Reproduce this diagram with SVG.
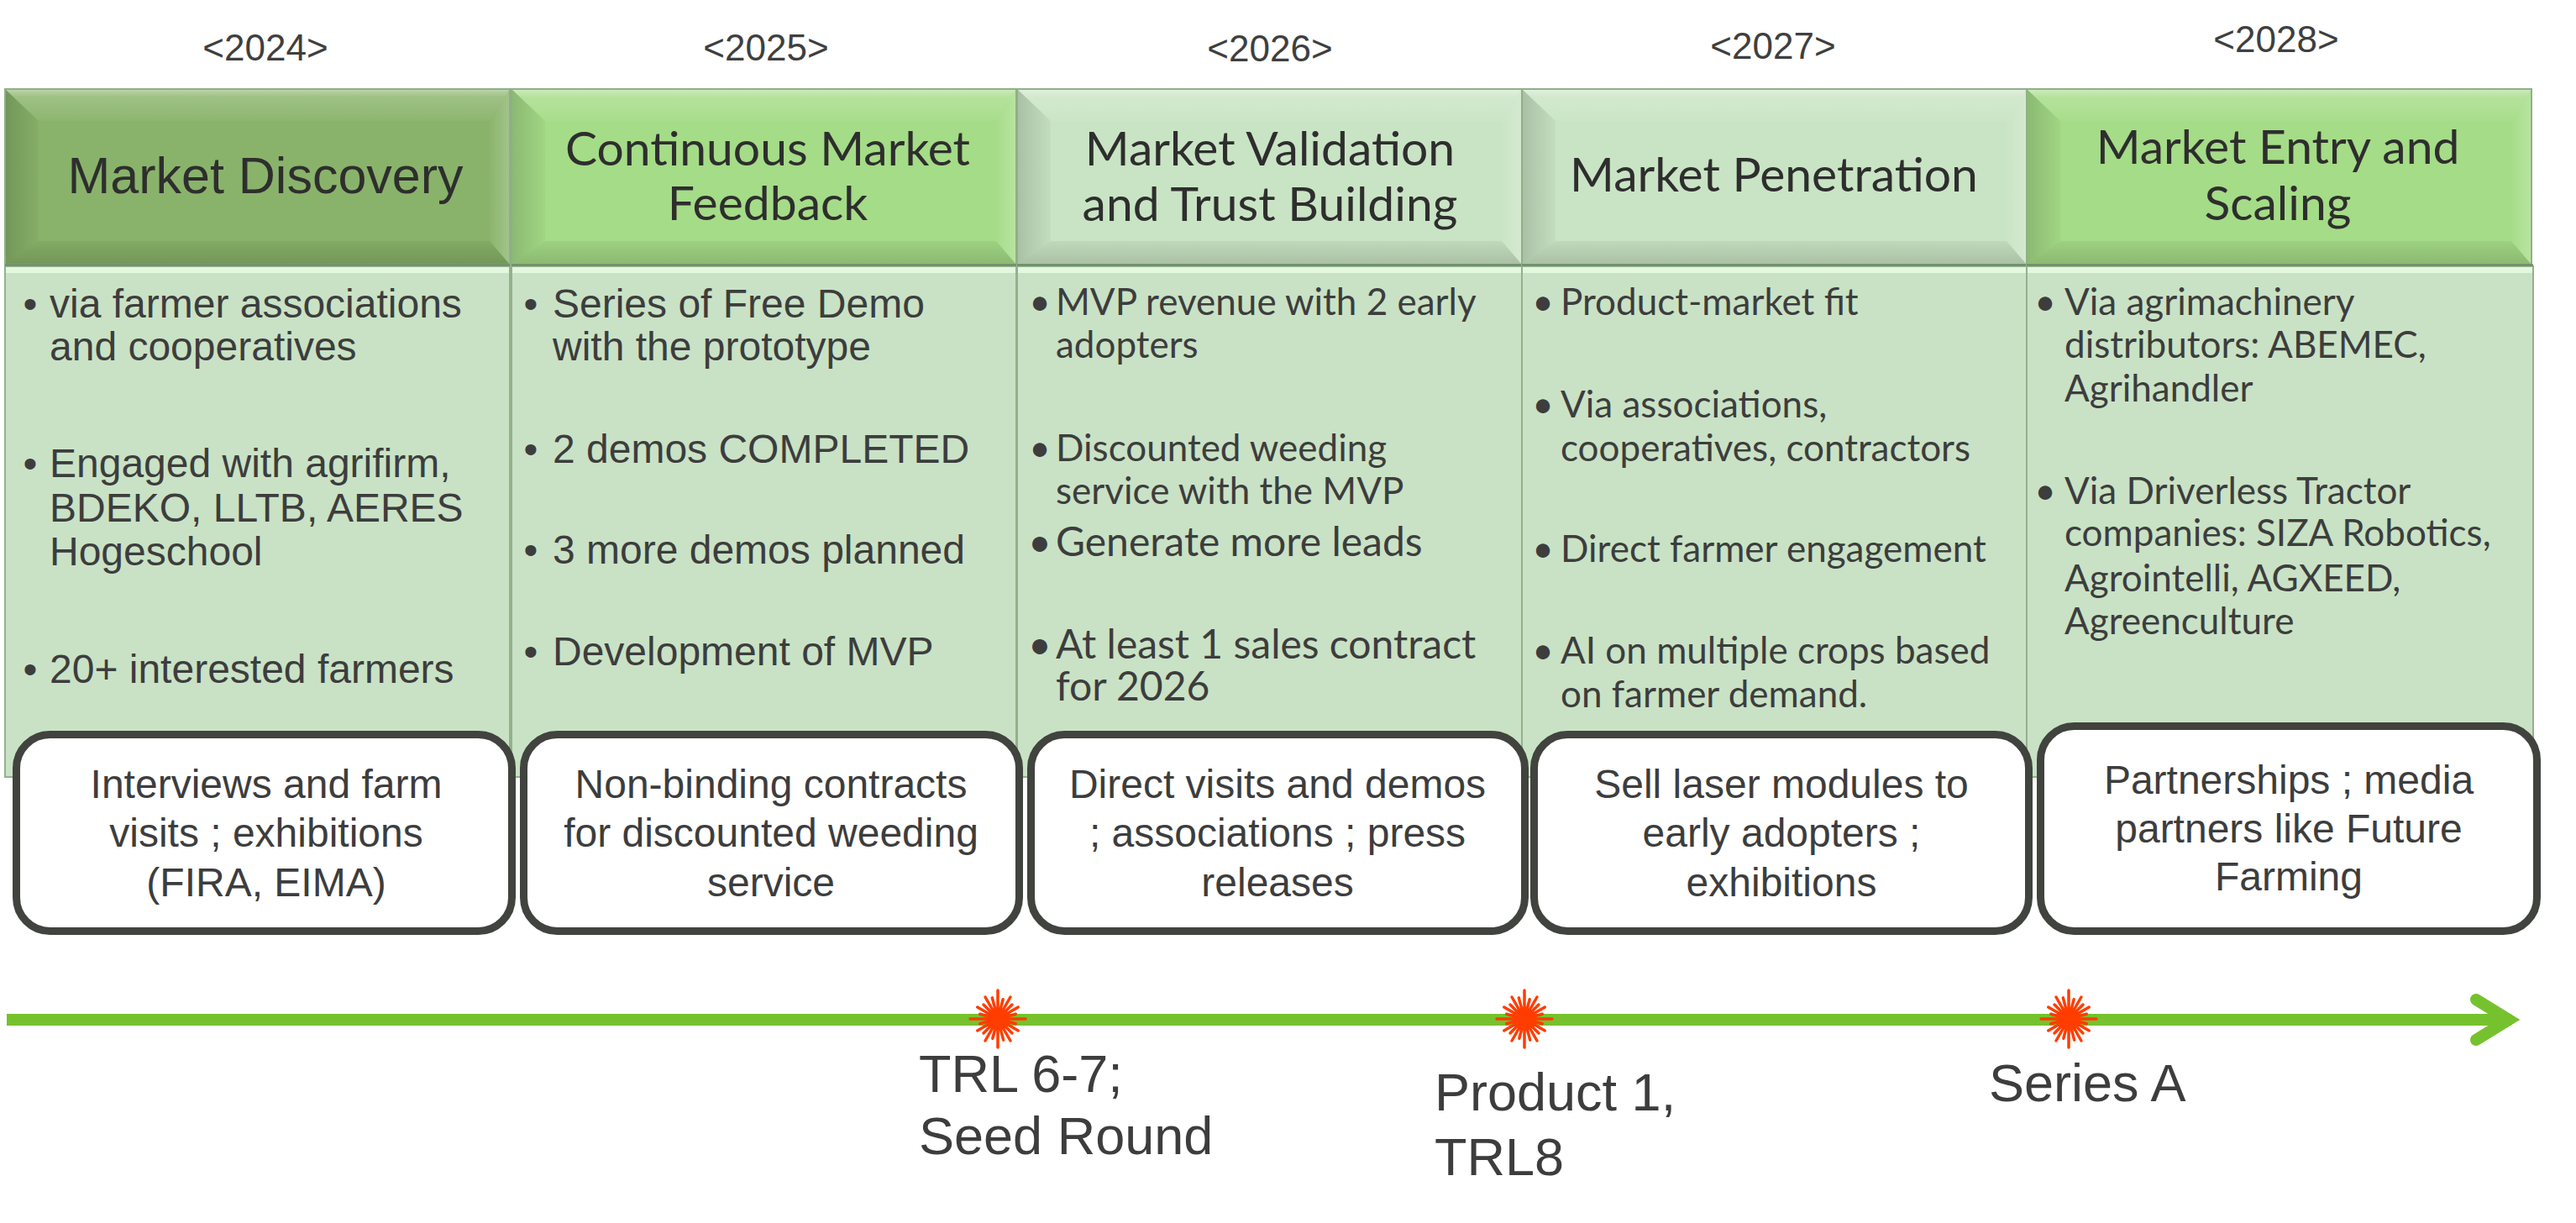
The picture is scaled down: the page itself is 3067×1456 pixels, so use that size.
<svg xmlns="http://www.w3.org/2000/svg" xmlns:xlink="http://www.w3.org/1999/xlink" width="3067" height="1456" viewBox="0 0 3067 1456">
  <style>
    .yr { font-family: "Liberation Sans", Arial, sans-serif; font-size: 44px; fill: #3f3f3f; text-anchor: middle; }
    .hA { font-family: "Liberation Sans", Arial, sans-serif; font-size: 61px; fill: #2e2e2e; text-anchor: middle; }
    .hC { font-family: Lato, "Noto Sans", sans-serif; font-size: 57px; fill: #2e2e2e; text-anchor: middle; }
    .bA { font-family: "Liberation Sans", Arial, sans-serif; font-size: 48px; fill: #3d3d3d; }
    .bC { font-family: Lato, "Noto Sans", sans-serif; font-size: 44px; fill: #3d3d3d; }
    .bC2 { font-family: Lato, "Noto Sans", sans-serif; font-size: 48px; fill: #3d3d3d; }
    .dot { text-anchor: middle; }
    .box { fill: #ffffff; stroke: #41433e; stroke-width: 9; }
    .bx { font-family: "Liberation Sans", Arial, sans-serif; font-size: 48px; fill: #3d3d3d; text-anchor: middle; }
    .ms { font-family: "Liberation Sans", Arial, sans-serif; font-size: 63px; fill: #3d3d3d; }
    .body { fill: #c9e2c5; stroke: #93b18d; stroke-width: 2; }
    .ray { stroke: #ff3d00; stroke-width: 3.5; stroke-linecap: round; fill: none; }
  </style>
  <defs>
    <!-- bevel shading overlays, shared by every phase header -->
    <linearGradient id="bevTop" x1="0" y1="0" x2="0" y2="1">
      <stop offset="0" stop-color="#ffffff" stop-opacity="0.45"/>
      <stop offset="0.25" stop-color="#ffffff" stop-opacity="0.18"/>
      <stop offset="1" stop-color="#ffffff" stop-opacity="0.04"/>
    </linearGradient>
    <linearGradient id="bevLeft" x1="0" y1="0" x2="1" y2="0">
      <stop offset="0" stop-color="#000000" stop-opacity="0.16"/>
      <stop offset="1" stop-color="#000000" stop-opacity="0.03"/>
    </linearGradient>
    <linearGradient id="bevRight" x1="0" y1="0" x2="1" y2="0">
      <stop offset="0" stop-color="#ffffff" stop-opacity="0.02"/>
      <stop offset="1" stop-color="#ffffff" stop-opacity="0.22"/>
    </linearGradient>
    <linearGradient id="bevBot" x1="0" y1="0" x2="0" y2="1">
      <stop offset="0" stop-color="#000000" stop-opacity="0.05"/>
      <stop offset="1" stop-color="#000000" stop-opacity="0.16"/>
    </linearGradient>
    <!-- bevel bands for a 601 x 209 header placed at the origin -->
    <g id="bevel">
      <polygon points="0,0 601,0 577,38 40,38" fill="url(#bevTop)"/>
      <polygon points="0,0 40,38 40,181 0,209" fill="url(#bevLeft)"/>
      <polygon points="601,0 601,209 577,181 577,38" fill="url(#bevRight)"/>
      <polygon points="0,209 40,181 577,181 601,209" fill="url(#bevBot)"/>
      <rect x="0" y="0" width="601" height="209" fill="none" stroke="#8fb088" stroke-width="2"/>
    </g>
    <!-- milestone starburst -->
    <g id="burst">
      <path class="ray" d="M0 0L33 0M0 0L21.3 5.7M0 0L24.3 14M0 0L17 17M0 0L15 26M0 0L6.7 25.1M0 0L0 34M0 0L-6.2 23.2M0 0L-15 26M0 0L-17 17M0 0L-24.3 14M0 0L-21.3 5.7M0 0L-33 0M0 0L-21.3 -5.7M0 0L-24.3 -14M0 0L-17 -17M0 0L-15 -26M0 0L-6.7 -25.1M0 0L0 -34M0 0L6.2 -23.2M0 0L15 -26M0 0L17 -17M0 0L24.3 -14M0 0L21.3 -5.7"/>
      <circle cx="0" cy="0" r="12" fill="#ff3d00"/>
    </g>
  </defs>

  <rect x="0" y="0" width="3067" height="1456" fill="#ffffff"/>

  <!-- years -->
  <g id="years">
    <text class="yr" x="316" y="72">&lt;2024&gt;</text>
    <text class="yr" x="912" y="72">&lt;2025&gt;</text>
    <text class="yr" x="1512" y="73">&lt;2026&gt;</text>
    <text class="yr" x="2111" y="70">&lt;2027&gt;</text>
    <text class="yr" x="2710" y="62">&lt;2028&gt;</text>
  </g>

  <!-- phase 1 -->
  <g id="phase-2024">
    <rect class="body" x="6" y="317" width="601" height="608"/>
    <rect x="7" y="318" width="599" height="7" fill="#e3f8df"/>
    <rect x="6" y="106" width="601" height="209" fill="#89b36a"/>
    <use xlink:href="#bevel" x="6" y="106"/>
    <line x1="6" y1="315.5" x2="607" y2="315.5" stroke="#6a8566" stroke-width="2"/>
    <text class="hA" x="316" y="230">Market Discovery</text>
    <text class="bA dot" x="36" y="378">•</text>
    <text class="bA" x="59" y="378">via farmer associations</text>
    <text class="bA" x="59" y="429">and cooperatives</text>
    <text class="bA dot" x="36" y="568">•</text>
    <text class="bA" x="59" y="568">Engaged with agrifirm,</text>
    <text class="bA" x="59" y="621">BDEKO, LLTB, AERES</text>
    <text class="bA" x="59" y="673">Hogeschool</text>
    <text class="bA dot" x="36" y="813">•</text>
    <text class="bA" x="59" y="813">20+ interested farmers</text>
  </g>

  <!-- phase 2 -->
  <g id="phase-2025">
    <rect class="body" x="609" y="317" width="601" height="608"/>
    <rect x="610" y="318" width="599" height="7" fill="#e3f8df"/>
    <rect x="609" y="106" width="601" height="209" fill="#a5dc87"/>
    <use xlink:href="#bevel" x="609" y="106"/>
    <line x1="609" y1="315.5" x2="1210" y2="315.5" stroke="#6a8566" stroke-width="2"/>
    <text class="hC" x="914" y="197">Continuous Market</text>
    <text class="hC" x="914" y="262">Feedback</text>
    <text class="bA dot" x="632" y="378">•</text>
    <text class="bA" x="658" y="378">Series of Free Demo</text>
    <text class="bA" x="658" y="429">with the prototype</text>
    <text class="bA dot" x="632" y="551">•</text>
    <text class="bA" x="658" y="551">2 demos COMPLETED</text>
    <text class="bA dot" x="632" y="671">•</text>
    <text class="bA" x="658" y="671">3 more demos planned</text>
    <text class="bA dot" x="632" y="792">•</text>
    <text class="bA" x="658" y="792">Development of MVP</text>
  </g>

  <!-- phase 3 -->
  <g id="phase-2026">
    <rect class="body" x="1211" y="317" width="601" height="608"/>
    <rect x="1212" y="318" width="599" height="7" fill="#e3f8df"/>
    <rect x="1211" y="106" width="601" height="209" fill="#c9e4c4"/>
    <use xlink:href="#bevel" x="1211" y="106"/>
    <line x1="1211" y1="315.5" x2="1812" y2="315.5" stroke="#6a8566" stroke-width="2"/>
    <text class="hC" x="1512" y="197">Market Validation</text>
    <text class="hC" x="1512" y="263">and Trust Building</text>
    <text class="bC dot" x="1238" y="375">•</text>
    <text class="bC" x="1257" y="375">MVP revenue with 2 early</text>
    <text class="bC" x="1257" y="426">adopters</text>
    <text class="bC dot" x="1238" y="549">•</text>
    <text class="bC" x="1257" y="549">Discounted weeding</text>
    <text class="bC" x="1257" y="600">service with the MVP</text>
    <text class="bC2 dot" x="1238" y="662">•</text>
    <text class="bC2" x="1257" y="662">Generate more leads</text>
    <text class="bC2 dot" x="1238" y="784">•</text>
    <text class="bC2" x="1257" y="784">At least 1 sales contract</text>
    <text class="bC2" x="1257" y="834">for 2026</text>
  </g>

  <!-- phase 4 -->
  <g id="phase-2027">
    <rect class="body" x="1812" y="317" width="601" height="608"/>
    <rect x="1813" y="318" width="599" height="7" fill="#e3f8df"/>
    <rect x="1812" y="106" width="601" height="209" fill="#c9e4c4"/>
    <use xlink:href="#bevel" x="1812" y="106"/>
    <line x1="1812" y1="315.5" x2="2413" y2="315.5" stroke="#6a8566" stroke-width="2"/>
    <text class="hC" x="2112" y="228">Market Penetration</text>
    <text class="bC dot" x="1837" y="375">•</text>
    <text class="bC" x="1858" y="375">Product-market fit</text>
    <text class="bC dot" x="1837" y="497">•</text>
    <text class="bC" x="1858" y="497">Via associations,</text>
    <text class="bC" x="1858" y="549">cooperatives, contractors</text>
    <text class="bC dot" x="1837" y="669">•</text>
    <text class="bC" x="1858" y="669">Direct farmer engagement</text>
    <text class="bC dot" x="1837" y="790">•</text>
    <text class="bC" x="1858" y="790">AI on multiple crops based</text>
    <text class="bC" x="1858" y="842">on farmer demand.</text>
  </g>

  <!-- phase 5 -->
  <g id="phase-2028">
    <rect class="body" x="2413" y="317" width="603" height="608"/>
    <rect x="2414" y="318" width="601" height="7" fill="#e3f8df"/>
    <rect x="2413" y="106" width="601" height="209" fill="#a5dc87"/>
    <use xlink:href="#bevel" x="2413" y="106"/>
    <line x1="2413" y1="315.5" x2="3016" y2="315.5" stroke="#6a8566" stroke-width="2"/>
    <text class="hC" x="2712" y="195">Market Entry and</text>
    <text class="hC" x="2712" y="262">Scaling</text>
    <text class="bC dot" x="2435" y="375">•</text>
    <text class="bC" x="2458" y="375">Via agrimachinery</text>
    <text class="bC" x="2458" y="426">distributors: ABEMEC,</text>
    <text class="bC" x="2458" y="478">Agrihandler</text>
    <text class="bC dot" x="2435" y="600">•</text>
    <text class="bC" x="2458" y="600">Via Driverless Tractor</text>
    <text class="bC" x="2458" y="650">companies: SIZA Robotics,</text>
    <text class="bC" x="2458" y="704">Agrointelli, AGXEED,</text>
    <text class="bC" x="2458" y="755">Agreenculture</text>
  </g>

  <!-- channel boxes -->
  <g id="channels-2024">
    <rect class="box" x="19.5" y="874.5" width="590" height="234" rx="40"/>
    <text class="bx" x="317" y="950">Interviews and farm</text>
    <text class="bx" x="317" y="1008">visits ; exhibitions</text>
    <text class="bx" x="317" y="1067">(FIRA, EIMA)</text>
  </g>
  <g id="channels-2025">
    <rect class="box" x="623.5" y="874.5" width="590" height="234" rx="40"/>
    <text class="bx" x="918" y="950">Non-binding contracts</text>
    <text class="bx" x="918" y="1008">for discounted weeding</text>
    <text class="bx" x="918" y="1067">service</text>
  </g>
  <g id="channels-2026">
    <rect class="box" x="1227.5" y="874.5" width="588" height="234" rx="40"/>
    <text class="bx" x="1521" y="950">Direct visits and demos</text>
    <text class="bx" x="1521" y="1008">; associations ; press</text>
    <text class="bx" x="1521" y="1067">releases</text>
  </g>
  <g id="channels-2027">
    <rect class="box" x="1826.5" y="874.5" width="589" height="234" rx="40"/>
    <text class="bx" x="2121" y="950">Sell laser modules to</text>
    <text class="bx" x="2121" y="1008">early adopters ;</text>
    <text class="bx" x="2121" y="1067">exhibitions</text>
  </g>
  <g id="channels-2028">
    <rect class="box" x="2429.5" y="864.5" width="591" height="244" rx="40"/>
    <text class="bx" x="2725" y="945">Partnerships ; media</text>
    <text class="bx" x="2725" y="1003">partners like Future</text>
    <text class="bx" x="2725" y="1060">Farming</text>
  </g>

  <!-- timeline arrow -->
  <g id="connectors">
    <line x1="8" y1="1214" x2="2990" y2="1214" stroke="#76c22e" stroke-width="14"/>
    <polyline points="2948,1190 2987,1214 2948,1238" fill="none" stroke="#76c22e" stroke-width="14" stroke-linecap="round" stroke-linejoin="miter"/>
  </g>

  <!-- milestones -->
  <g id="milestone-seed">
    <use xlink:href="#burst" x="1188" y="1213"/>
    <text class="ms" x="1094" y="1300">TRL 6-7;</text>
    <text class="ms" x="1094" y="1374">Seed Round</text>
  </g>
  <g id="milestone-product">
    <use xlink:href="#burst" x="1815" y="1213"/>
    <text class="ms" x="1708" y="1322">Product 1,</text>
    <text class="ms" x="1708" y="1399">TRL8</text>
  </g>
  <g id="milestone-series-a">
    <use xlink:href="#burst" x="2463" y="1213"/>
    <text class="ms" x="2368" y="1311">Series A</text>
  </g>
</svg>
